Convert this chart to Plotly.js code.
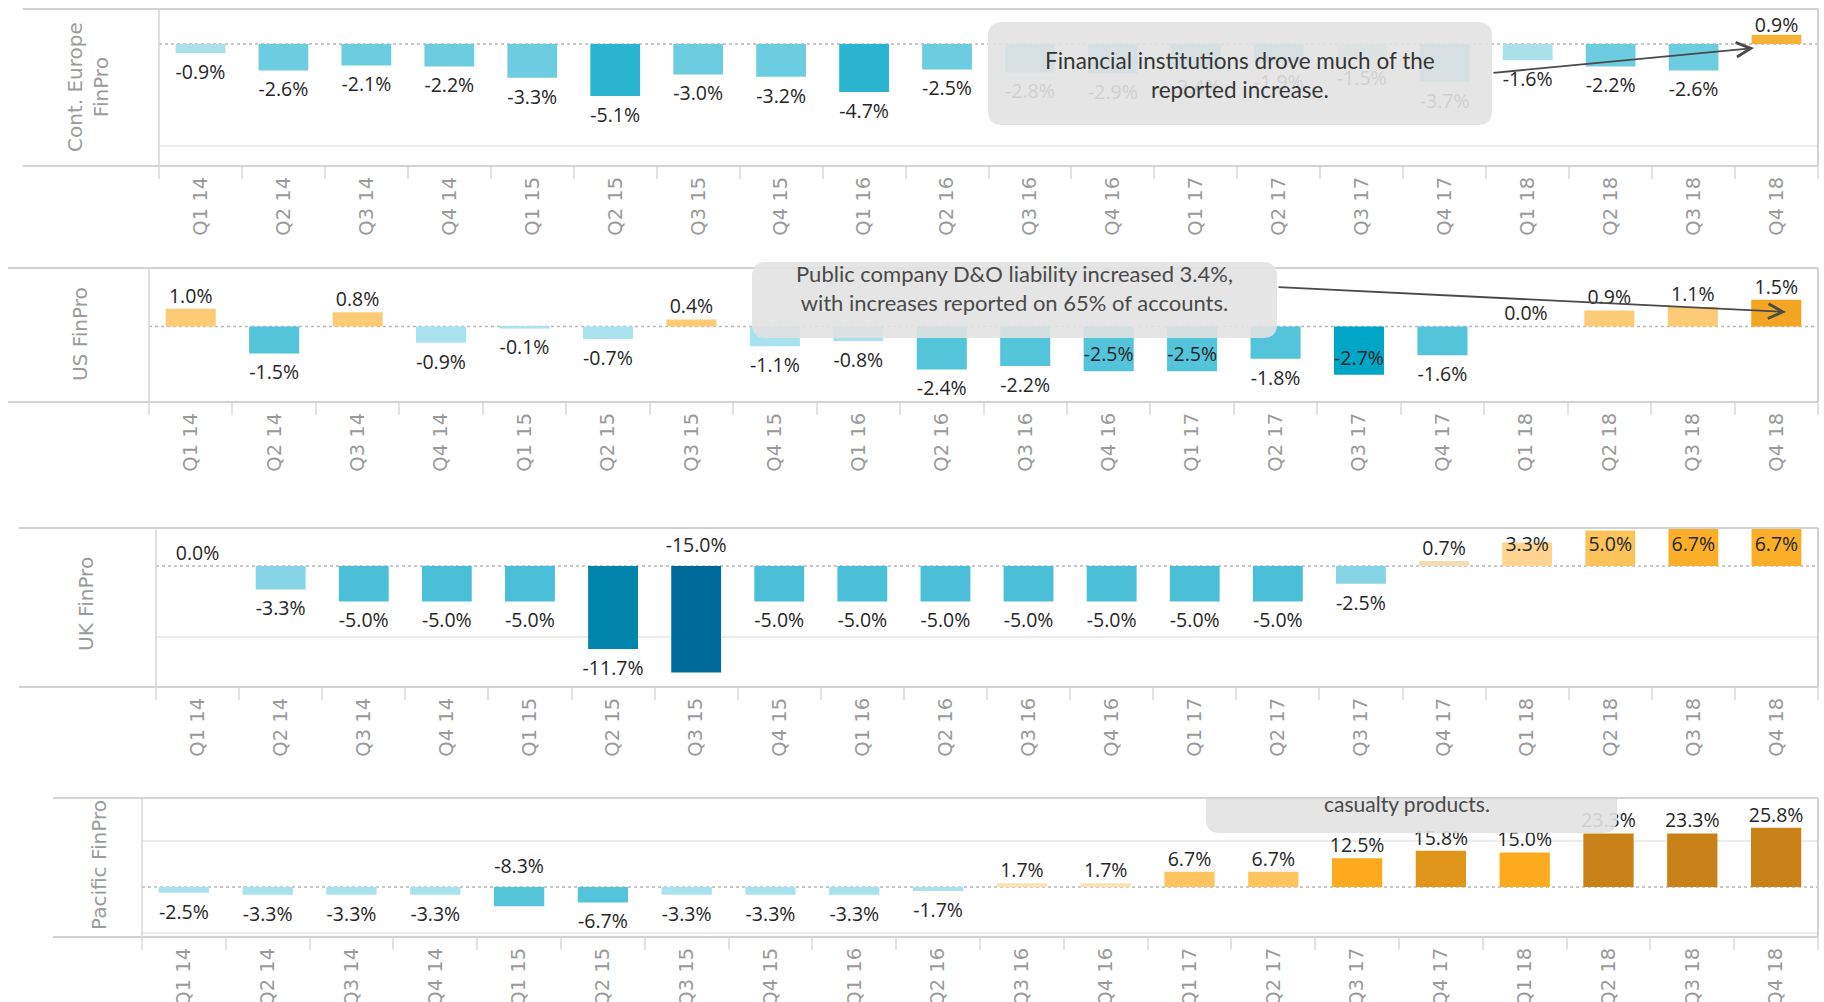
<!DOCTYPE html>
<html>
<head>
<meta charset="utf-8">
<script src="https://cdn.plot.ly/plotly-3.0.1.min.js"></script>
<style>
html,body{margin:0;padding:0;background:#fff;overflow:hidden}
#chart{width:1824px;height:1002px}
</style>
</head>
<body>
<div id="chart"></div>
<script>
// ---------------- DATA ----------------
const quarters = ['Q1 14','Q2 14','Q3 14','Q4 14','Q1 15','Q2 15','Q3 15','Q4 15','Q1 16','Q2 16',
                  'Q3 16','Q4 16','Q1 17','Q2 17','Q3 17','Q4 17','Q1 18','Q2 18','Q3 18','Q4 18'];
const contEuropeValues = [-0.9,-2.6,-2.1,-2.2,-3.3,-5.1,-3.0,-3.2,-4.7,-2.5,-2.8,-2.9,-2.4,-1.9,-1.5,-3.7,-1.6,-2.2,-2.6,0.9];
const usValues         = [1.0,-1.5,0.8,-0.9,-0.1,-0.7,0.4,-1.1,-0.8,-2.4,-2.2,-2.5,-2.5,-1.8,-2.7,-1.6,0.0,0.9,1.1,1.5];
const ukValues         = [0.0,-3.3,-5.0,-5.0,-5.0,-11.7,-15.0,-5.0,-5.0,-5.0,-5.0,-5.0,-5.0,-5.0,-2.5,0.7,3.3,5.0,6.7,6.7];
const pacificValues    = [-2.5,-3.3,-3.3,-3.3,-8.3,-6.7,-3.3,-3.3,-3.3,-1.7,1.7,1.7,6.7,6.7,12.5,15.8,15.0,23.3,23.3,25.8];
const rowLabels = ['Cont. Europe<br>FinPro','US FinPro','UK FinPro','Pacific FinPro'];
const noteEurope  = 'Financial institutions drove much of the<br>reported increase.';
const noteUS      = 'Public company D&O liability increased 3.4%,<br>with increases reported on 65% of accounts.';
const notePacific = 'casualty products.';

// ---------------- LAYOUT / STYLE ----------------
const W = 1824, H = 1002;
const px = x => x / W;
const py = y => 1 - y / H;

const panels = [
  {values: contEuropeValues, left:159, right:1818, top:9,   bottom:166, headerLeft:23,
   range:[-11.96,3.43], grid:[-10], labelX:88, labelY:87, inside:[], flip:[],
   bins:[[-4,'#2ab4cf'],[-1.8,'#6ccde0'],[0,'#a9e1eb'],[Infinity,'#f6b136']]},
  {values: usValues, left:149, right:1818, top:268, bottom:402, headerLeft:8,
   range:[-4.22,3.28], grid:[], labelX:80, labelY:334, inside:['Q4 16','Q1 17','Q3 17'], flip:[],
   bins:[[-2.6,'#00a6c6'],[-1.3,'#53c4d9'],[0,'#a7e2ee'],[1.3,'#fdcb76'],[Infinity,'#f2a623']]},
  {values: ukValues, left:156, right:1818, top:528, bottom:687, headerLeft:19,
   range:[-17.04,5.35], grid:[-10], labelX:86, labelY:604, inside:[], flip:['Q3 15'],
   bins:[[-13,'#006b9b'],[-8,'#0285ad'],[-4,'#4bbfd7'],[0,'#86d4e6'],[2,'#f2ddb3'],[4,'#fed490'],[6,'#fdc35b'],[Infinity,'#fbae28']]},
  {values: pacificValues, left:142, right:1818, top:798, bottom:937, headerLeft:53,
   range:[-21.7,38.7], grid:[-20,20], labelX:99, labelY:865, inside:[], flip:['Q1 15'],
   bins:[[-5,'#53c4d9'],[0,'#a7e2ee'],[4,'#fde0b4'],[10,'#fdc460'],[15.5,'#fbab1d'],[20,'#e0961b'],[Infinity,'#c98217']]}
];

function colorFor(v, bins){
  for (const [ub,c] of bins){ if (v < ub) return c; }
  return bins[bins.length-1][1];
}
function fmt(v){ return v.toFixed(1) + '%'; }
function labelPos(v, p, j){
  const ppu = (p.bottom - p.top) / (p.range[1] - p.range[0]);
  const zeroPx = p.top + p.range[1] * ppu;
  const endPx = zeroPx - v * ppu;
  let c;
  if (p.inside.includes(quarters[j])) c = endPx - 15;
  else if (p.flip.includes(quarters[j])) c = zeroPx - 19;
  else if (v < 0) c = endPx + 21;
  else c = endPx - 11;
  c = Math.max(c, p.top + 18);
  return p.range[1] - (c - p.top) / ppu;
}

const traces = [];
const layout = {
  width: W, height: H,
  margin: {l:0, r:0, t:0, b:0},
  paper_bgcolor: '#ffffff', plot_bgcolor: '#ffffff',
  showlegend: false, bargap: 0.4,
  shapes: [], annotations: []
};
const borderColor = '#d2d2d2';

panels.forEach((p, i) => {
  const s = i === 0 ? '' : String(i + 1);
  const xa = 'x' + s, ya = 'y' + s;
  traces.push({
    type: 'bar', x: quarters, y: p.values, xaxis: xa, yaxis: ya,
    marker: {color: p.values.map(v => colorFor(v, p.bins))},
    hovertemplate: '%{x}: %{y:.1f}%<extra></extra>'
  });
  traces.push({
    type: 'scatter', mode: 'text', x: quarters, y: p.values.map((v,j) => labelPos(v,p,j)),
    xaxis: xa, yaxis: ya, text: p.values.map(fmt), textposition: 'middle center',
    textfont: {family: 'Open Sans, Lato, sans-serif', size: 19.5, color: '#262626'},
    cliponaxis: false, hoverinfo: 'skip'
  });
  layout['xaxis' + s] = {
    domain: [px(p.left), px(p.right)], anchor: ya, type: 'category',
    categoryorder: 'array', categoryarray: quarters, range: [-0.5, quarters.length - 0.5],
    tickangle: -90, ticks: 'outside', tickson: 'boundaries', ticklen: 12,
    tickcolor: '#e2e2e2', tickwidth: 1.5, showline: false, showgrid: false, zeroline: false,
    ticklabelstandoff: 6,
    tickfont: {family: 'DejaVu Sans, sans-serif', size: 19.5, color: '#9a9a9a'},
    fixedrange: true, automargin: false
  };
  layout['yaxis' + s] = {
    domain: [py(p.bottom), py(p.top)], anchor: xa, range: p.range,
    showticklabels: false, ticks: '', tickvals: p.grid, showgrid: true,
    gridcolor: '#ececec', gridwidth: 2, zeroline: false, showline: false,
    fixedrange: true, automargin: false
  };
  // zero reference line (dotted)
  layout.shapes.push({type:'line', xref: xa + ' domain', yref: ya, x0:0, x1:1, y0:0, y1:0,
    line:{color:'#b8b8b8', width:1.5, dash:'dot'}, layer:'below'});
  // panel frame
  layout.shapes.push({type:'line', xref:'paper', yref:'paper', x0:px(p.headerLeft), x1:px(p.right), y0:py(p.top), y1:py(p.top),
    line:{color:borderColor, width:2}, layer:'above'});
  layout.shapes.push({type:'line', xref:'paper', yref:'paper', x0:px(p.headerLeft), x1:px(p.right), y0:py(p.bottom), y1:py(p.bottom),
    line:{color:borderColor, width:2}, layer:'above'});
  layout.shapes.push({type:'line', xref:'paper', yref:'paper', x0:px(p.right), x1:px(p.right), y0:py(p.top), y1:py(p.bottom),
    line:{color:borderColor, width:2}, layer:'above'});
  layout.shapes.push({type:'line', xref:'paper', yref:'paper', x0:px(p.left), x1:px(p.left), y0:py(p.top), y1:py(p.bottom),
    line:{color:'#d6d6d6', width:1.5}, layer:'above'});
  // row header
  layout.annotations.push({xref:'paper', yref:'paper', x:px(p.labelX), y:py(p.labelY), text: rowLabels[i],
    textangle:-90, showarrow:false, xanchor:'center', yanchor:'middle',
    font:{family:'DejaVu Sans, sans-serif', size:20, color:'#9b9b9b'}});
});

// rounded note boxes
function roundBox(x0, y0, x1, y1, r, roundTop){
  const X0=px(x0), X1=px(x1), Yt=py(y0), Yb=py(y1), rx=r/W, ry=r/H;
  if (roundTop) {
    return `M${X0+rx},${Yt} H${X1-rx} Q${X1},${Yt} ${X1},${Yt-ry} V${Yb+ry} Q${X1},${Yb} ${X1-rx},${Yb} H${X0+rx} Q${X0},${Yb} ${X0},${Yb+ry} V${Yt-ry} Q${X0},${Yt} ${X0+rx},${Yt} Z`;
  }
  return `M${X0},${Yt} H${X1} V${Yb+ry} Q${X1},${Yb} ${X1-rx},${Yb} H${X0+rx} Q${X0},${Yb} ${X0},${Yb+ry} Z`;
}
const boxFill = 'rgba(226,226,226,0.9)';
layout.shapes.push({type:'path', xref:'paper', yref:'paper', path: roundBox(988,22,1492,125,14,true), fillcolor: boxFill, line:{width:0}, layer:'above'});
layout.shapes.push({type:'path', xref:'paper', yref:'paper', path: roundBox(752,262,1277,338,14,true), fillcolor: boxFill, line:{width:0}, layer:'above'});
layout.shapes.push({type:'path', xref:'paper', yref:'paper', path: roundBox(1206,799,1617,833,14,false), fillcolor: boxFill, line:{width:0}, layer:'above'});

const noteFont = {family:'Lato, Open Sans, sans-serif', size:22.5, color:'#363636'};
layout.annotations.push({xref:'paper', yref:'paper', x:px(1240), y:py(75), text: noteEurope, showarrow:false,
  xanchor:'center', yanchor:'middle', align:'center', font: noteFont});
layout.annotations.push({xref:'paper', yref:'paper', x:px(1014), y:py(288), text: noteUS, showarrow:false,
  xanchor:'center', yanchor:'middle', align:'center', font: Object.assign({}, noteFont, {color:'#4a4a4a', size:22})});
layout.annotations.push({xref:'paper', yref:'paper', x:px(1407), y:py(803), text: notePacific, showarrow:false,
  xanchor:'center', yanchor:'middle', align:'center', font: Object.assign({}, noteFont, {color:'#4a4a4a', size:21})});

// arrows
layout.annotations.push({xref:'paper', yref:'paper', x:px(1754), y:py(48), ax:-262, ay:25, text:'',
  showarrow:true, arrowhead:5, arrowsize:1.6, arrowwidth:1.8, arrowcolor:'#4a4a4a'});
layout.annotations.push({xref:'paper', yref:'paper', x:px(1786), y:py(312), ax:-509, ay:-25, text:'',
  showarrow:true, arrowhead:5, arrowsize:1.6, arrowwidth:1.8, arrowcolor:'#4a4a4a'});

Plotly.newPlot('chart', traces, layout, {displayModeBar:false, staticPlot:false});
</script>
</body>
</html>
